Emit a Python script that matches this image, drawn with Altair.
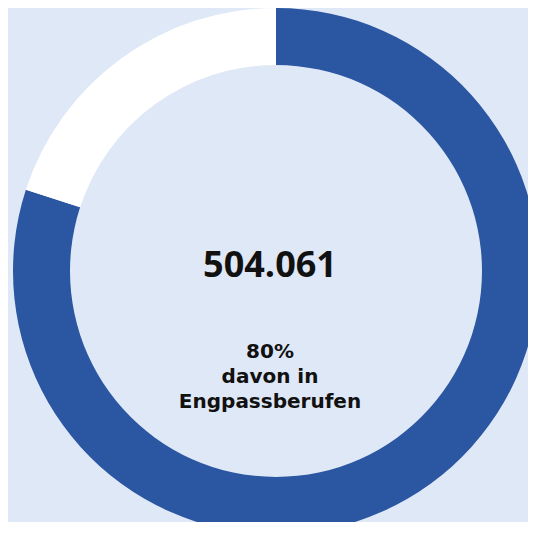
import altair as alt
import pandas as pd

segments = ["in Engpassberufen", "sonstige"]
shares = [80, 20]
seg_colors = ["#2b56a1", "#ffffff"]

total_label = "504.061"
sub_lines = ["80%", "davon in", "Engpassberufen"]

bg = "#dfe8f6"

df = pd.DataFrame({"segment": segments, "share": shares, "idx": list(range(len(segments)))})

CX, CY = 268, 263

donut = alt.Chart(df).mark_arc(outerRadius=263, innerRadius=206).encode(
    theta=alt.Theta("share:Q", stack=True),
    order=alt.Order("idx:Q"),
    color=alt.Color("segment:N", scale=alt.Scale(domain=segments, range=seg_colors), legend=None),
    x=alt.value(CX),
    y=alt.value(CY),
)

big = alt.Chart(pd.DataFrame({"t": [total_label]})).mark_text(
    font="Open Sans", fontWeight="bold", fontSize=36, color="#111111", baseline="alphabetic", align="center"
).encode(text="t:N", x=alt.value(CX - 6), y=alt.value(269))

sub_df = pd.DataFrame({"t": sub_lines, "i": list(range(len(sub_lines)))})
sub_df["yy"] = [350, 375, 400]
sub = alt.Chart(sub_df).mark_text(
    font="DejaVu Sans", fontWeight="bold", fontSize=20, color="#111111", baseline="alphabetic", align="center"
).encode(
    text="t:N",
    x=alt.value(CX - 6),
    y=alt.Y("yy:Q", scale=None, axis=None),
)

chart = alt.layer(donut, big, sub).properties(
    width=520, height=514, padding=0, autosize=alt.AutoSizeParams(type="none"), background=bg
).configure_view(stroke=None)

chart.save("out.html", embed_options={"renderer": "svg", "actions": False})
